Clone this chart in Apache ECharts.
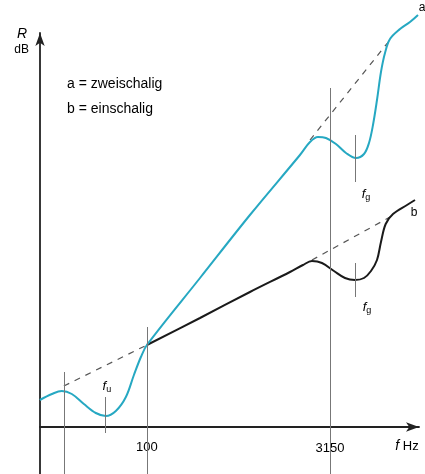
<!DOCTYPE html>
<html>
<head>
<meta charset="utf-8">
<script src="https://cdn.jsdelivr.net/npm/echarts@6/dist/echarts.min.js"></script>
<style>
  html, body { margin: 0; padding: 0; background: #fff; }
  #chart { width: 425px; height: 474px; }
</style>
</head>
<body>
<div id="chart"></div>
<script>
// x = Frequenz in Hz (log), y = R in dB (schematic, 0 at the f axis)
var curveA = [
  [13.3, 27], [16.7, 33], [20.1, 36], [24.3, 33], [30.5, 23], [38.2, 14], [46.1, 11],
  [55.7, 16], [67.3, 30], [78.3, 52], [89.3, 70], [100, 82],
  [272, 149], [697, 212], [1789, 272], [2161, 285], [2512, 290], [2921, 289],
  [3527, 283], [4259, 274], [5143, 269], [5981, 273], [6571, 284], [7086, 302],
  [7641, 327], [8237, 355], [8884, 374], [9761, 388], [11790, 398], [14230, 405], [16550, 412]
]
var curveB = [
  [100, 82], [272, 109], [697, 135], [1482, 155], [1893, 162], [2244, 166], [2709, 164],
  [3396, 156], [4180, 149], [5047, 147], [5981, 149], [6823, 156], [7641, 167],
  [8237, 185], [9000, 203], [10330, 213], [13450, 222], [15640, 227]
]
var dashLow = [[20.9, 41], [100, 82]]
var dashA = [[2162, 287], [9454, 385]]
var dashB = [[2244, 167], [9767, 210]]
// vertical guide lines: [f, R top, R bottom]
var guides = [
  [20.9, 55, -47], [45.3, 30, -6], [100, 100, -47], [3150, 339, -47],
  [5100, 292, 245], [5100, 164, 130]
]
// text marks: [f, R, text]
var tickLabels = [[100, -20, '100'], [3150, -21, '3150'], [13450, -19, '{i|f} Hz']]
var markLabels = [
  [17850, 419, 'a'], [15350, 214, 'b'],
  [47.0, 41, '{i|f}{s|u}'], [6209, 233, '{i|f}{s|g}'], [6324, 120, '{i|f}{s|g}']
]

var teal = '#26a8c2'
var ink = '#000'
var font = 'Liberation Sans, Arial, sans-serif'

function textSeries (list, size) {
  return {
    type: 'scatter',
    silent: true,
    clip: false,
    symbolSize: 0.1,
    itemStyle: { color: 'rgba(0,0,0,0)', opacity: 1 },
    label: {
      show: true,
      position: 'inside',
      color: ink,
      opacity: 1,
      fontSize: size,
      fontFamily: font,
      formatter: function (p) { return p.data[2] },
      rich: {
        i: { fontStyle: 'italic', fontSize: size + 1, fontFamily: font, color: ink },
        s: { fontSize: 9, fontFamily: font, color: ink, padding: [7, 0, 0, 0] }
      }
    },
    data: list
  }
}

var chart = echarts.init(document.getElementById('chart'))
chart.setOption({
  backgroundColor: '#fff',
  animation: false,
  title: {
    text: 'a = zweischalig\nb = einschalig',
    left: 67,
    top: 72,
    padding: 0,
    textStyle: { fontSize: 14, fontWeight: 'normal', color: ink, lineHeight: 25, fontFamily: font }
  },
  grid: { left: 40, right: 6, top: 33, bottom: 0 },
  xAxis: {
    type: 'log',
    logBase: 10,
    min: 13.34,
    max: 16865,
    axisLine: { show: true, onZero: true, symbol: ['none', 'arrow'], symbolSize: [7, 13], lineStyle: { color: '#222', width: 1.8 } },
    axisTick: { show: false },
    axisLabel: { show: false },
    splitLine: { show: false }
  },
  yAxis: {
    type: 'value',
    min: -47,
    max: 394,
    name: '{r|R}\n{u|dB}',
    nameLocation: 'end',
    nameGap: 7,
    nameTextStyle: {
      align: 'right',
      verticalAlign: 'top',
      padding: [0, 11, 0, 0],
      rich: {
        r: { fontSize: 14, fontStyle: 'italic', fontFamily: font, color: ink, lineHeight: 16, padding: [0, 2, 0, 0] },
        u: { fontSize: 12, fontFamily: font, color: ink, lineHeight: 16 }
      }
    },
    axisLine: { show: true, onZero: false, symbol: ['none', 'arrow'], symbolSize: [7, 13], lineStyle: { color: '#222', width: 1.8 } },
    axisTick: { show: false },
    axisLabel: { show: false },
    splitLine: { show: false }
  },
  series: [
    {
      type: 'line',
      silent: true,
      data: [],
      markLine: {
        silent: true,
        symbol: ['none', 'none'],
        label: { show: false },
        lineStyle: { color: '#777', width: 1, type: 'solid' },
        data: guides.map(function (g) { return [{ coord: [g[0], g[1]] }, { coord: [g[0], g[2]] }] })
      }
    },
    {
      type: 'line', data: dashLow, clip: false, symbol: 'none', silent: true,
      lineStyle: { color: '#555', width: 1.2, type: [6, 6] }
    },
    {
      type: 'line', data: dashA, clip: false, symbol: 'none', silent: true,
      lineStyle: { color: '#555', width: 1.2, type: [6, 6] }
    },
    {
      type: 'line', data: dashB, clip: false, symbol: 'none', silent: true,
      lineStyle: { color: '#555', width: 1.2, type: [6, 6] }
    },
    {
      name: 'b', type: 'line', data: curveB, clip: false, symbol: 'none', smooth: 0.35, silent: true,
      lineStyle: { color: '#1a1a1a', width: 2 }
    },
    {
      name: 'a', type: 'line', data: curveA, clip: false, symbol: 'none', smooth: 0.35, silent: true,
      lineStyle: { color: teal, width: 2 }
    },
    textSeries(tickLabels, 13),
    textSeries(markLabels, 12)
  ]
})
</script>
</body>
</html>
